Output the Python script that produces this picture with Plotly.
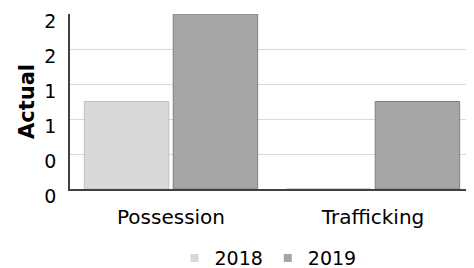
import plotly.graph_objects as go

categories = ["Possession", "Trafficking"]
series_names = ["2018", "2019"]
values_2018 = [1, 0]
values_2019 = [2, 1]
tick_values = [0, 0.4, 0.8, 1.2, 1.6, 2.0]
tick_labels = ["0", "0", "1", "1", "2", "2"]
series_colors = ["#d9d9d9", "#a6a6a6"]
edge_colors = ["#bfbfbf", "#7f7f7f"]

font_family = "DejaVu Sans, Verdana, sans-serif"

fig = go.Figure()
for name, vals, col, edge in zip(series_names, [values_2018, values_2019], series_colors, edge_colors):
    fig.add_trace(go.Bar(
        x=categories, y=vals, name=name, showlegend=False,
        marker=dict(color=col, line=dict(color=edge, width=1)),
    ))
    # legend entry with a small square swatch
    fig.add_trace(go.Scatter(
        x=[None], y=[None], mode="markers", name=name,
        marker=dict(symbol="square", size=8, color=col),
    ))

fig.update_layout(
    width=466, height=260,
    margin=dict(l=62, r=0, t=6, b=79, autoexpand=False),
    paper_bgcolor="white", plot_bgcolor="white",
    font=dict(family=font_family, size=19, color="#000000"),
    barmode="group", bargap=0.12, bargroupgap=0.05,
    showlegend=True,
    legend=dict(orientation="h", xref="paper", x=0.49, xanchor="center",
                yref="paper", y=-0.395, yanchor="middle",
                font=dict(size=19), itemwidth=30, tracegroupgap=0,
                bgcolor="rgba(0,0,0,0)"),
    xaxis=dict(
        showline=True, linecolor="#404040", linewidth=1.5,
        showgrid=False, ticks="", ticklabelstandoff=9,
        tickfont=dict(size=20),
        range=[-0.5, 1.5], automargin=False,
    ),
    yaxis=dict(
        range=[0, 2.0], tickvals=tick_values, ticktext=tick_labels,
        showline=True, linecolor="#404040", linewidth=1.5,
        showgrid=True, gridcolor="#d9d9d9", gridwidth=1.2,
        ticks="", ticklabelstandoff=8, ticklabelshift=7,
        zeroline=False, automargin=False,
        title=dict(text="<b>Actual</b>", font=dict(size=21), standoff=4),
    ),
)

fig.write_html("out.html")
